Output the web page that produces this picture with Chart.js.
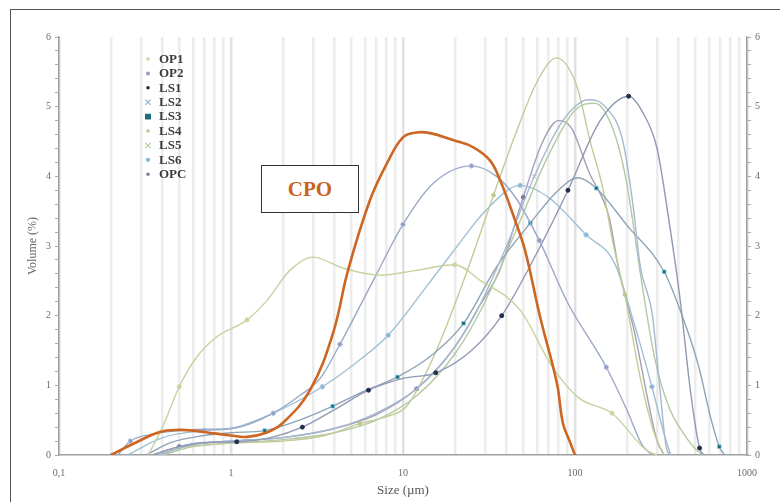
<!DOCTYPE html>
<html><head><meta charset="utf-8">
<script src="https://cdn.jsdelivr.net/npm/chart.js@4.4.1/dist/chart.umd.min.js"></script>
<style>
html,body{margin:0;padding:0;background:#fff;}
#wrap{position:relative;width:780px;height:502px;overflow:hidden;background:#fff;}
#frame{position:absolute;left:10px;top:9px;width:900px;height:700px;border-top:1.5px solid #555;border-left:1.5px solid #555;}
canvas{position:absolute;left:0;top:0;}
#cpo{position:absolute;left:261px;top:165px;width:96px;height:46px;border:1.5px solid #333;background:#fff;font:bold 21px "Liberation Serif",serif;color:#c8641e;display:flex;align-items:center;justify-content:center;}
</style></head>
<body>
<div id="wrap"><div id="frame"></div><canvas id="c" width="780" height="502"></canvas><div id="cpo">CPO</div></div>
<script>
// ---- data (size in µm, volume in %) ----
const cpoSize = [0.2,0.28,0.386,0.5,0.6,0.8,1.0,1.24,1.6,2.0,2.88,3.92,4.79,6.43,8.2,10.0,12.0,14.4,19.5,25.5,32,36.6,44.8,51.2,62.7,78.5,85,93,100];
const cpoVol  = [0,0.18,0.33,0.36,0.35,0.31,0.28,0.26,0.32,0.46,0.93,1.75,2.65,3.66,4.22,4.56,4.63,4.62,4.52,4.42,4.23,3.95,3.37,2.94,1.98,1.03,0.46,0.2,0];

const op1Size = [0.33,0.4,0.5,0.63,0.83,1.24,1.62,2.2,3.0,4.5,7.4,12,20,28,48,74,105,164,260,300];
const op1Vol  = [0,0.4,0.98,1.4,1.7,1.94,2.22,2.65,2.84,2.68,2.58,2.65,2.73,2.51,2.08,1.26,0.82,0.6,0.07,0];

const op2Size = [0.22,0.26,0.35,0.5,0.7,1.0,1.3,1.76,2.5,3.3,4.3,6.7,10,15,25,35,45,62,90,152,200,245,280];
const op2Vol  = [0,0.2,0.3,0.35,0.37,0.38,0.45,0.6,0.85,1.1,1.59,2.5,3.31,3.9,4.15,4.0,3.7,3.08,2.2,1.26,0.65,0.15,0];

const ls1Size = [0.35,0.5,0.7,1.08,1.7,2.6,4,6.3,10,15.5,25,37.5,60,91,140,205,250,300,350,410,470,530,560];
const ls1Vol  = [0,0.12,0.18,0.19,0.25,0.4,0.65,0.93,1.1,1.18,1.5,2.0,2.9,3.8,4.8,5.15,4.9,4.4,3.4,2.2,0.9,0.1,0];

const ls2Size = [0.38,0.6,1,2,4,7,12,18,26,40,58,85,120,150,190,217,240,282,310,340,360];
const ls2Vol  = [0,0.15,0.2,0.25,0.38,0.6,0.95,1.4,2.0,3.0,4.0,4.8,5.1,5.0,4.5,3.6,2.7,2.0,1.0,0.1,0];

const ls3Size = [0.32,0.45,0.7,1.0,1.57,2.5,3.9,6,9.3,15,22.5,35,55,80,104,133,200,330,420,520,620,690,740];
const ls3Vol  = [0,0.18,0.28,0.32,0.35,0.5,0.7,0.92,1.12,1.45,1.89,2.7,3.33,3.8,3.98,3.83,3.3,2.63,2.0,1.3,0.5,0.12,0];

const ls4Size = [0.38,0.5,0.7,1,2,3.5,5.6,8,10.5,15,22.5,33.6,45,60,78,103,122,146,165,195,240,290,330];
const ls4Vol  = [0,0.1,0.14,0.17,0.2,0.28,0.45,0.55,0.7,1.4,2.5,3.73,4.6,5.35,5.7,5.28,4.52,3.8,3.08,2.3,1.1,0.3,0];

const ls5Size = [0.4,0.6,1,2,4,7,12,20,30,45,70,100,130,165,200,240,290,350,430,520,560];
const ls5Vol  = [0,0.12,0.17,0.22,0.32,0.5,0.85,1.45,2.2,3.2,4.3,4.95,5.05,4.7,3.9,2.6,1.4,0.7,0.3,0.05,0];

const ls6Size = [0.25,0.4,0.7,1.0,1.76,3.4,5.5,8.2,14,20,30,48,70,116,170,220,280,330,360];
const ls6Vol  = [0,0.25,0.35,0.38,0.6,0.98,1.35,1.72,2.45,2.95,3.5,3.87,3.7,3.16,2.75,1.9,0.98,0.3,0];

const opcSize = [0.35,0.5,1,2,4,7,12,20,28,36.5,50,65,80,95,121,158,180,220,270,300,330];
const opcVol  = [0,0.12,0.2,0.25,0.38,0.58,0.95,1.55,2.15,2.65,3.7,4.5,4.8,4.7,4.05,3.41,2.65,1.8,0.7,0.2,0];

// sizes at which a marker is shown on each curve
const op1Marks = [0.5,1.24,20,164];
const op2Marks = [0.26,1.76,4.3,10,25,62,152];
const ls1Marks = [1.08,2.6,6.3,15.5,37.5,91,205,530];
const ls2Marks = [0.6,12,58];
const ls3Marks = [1.57,3.9,9.3,22.5,55,133,330,690];
const ls4Marks = [5.6,33.6,195];
const ls5Marks = [20];
const ls6Marks = [0.7,3.4,8.2,48,116,280];
const opcMarks = [0.5,12,50];

const xTickValues = [0.1,1,10,100,1000];
const xTickLabels = ['0,1','1','10','100','1000'];
const seriesNames = ['OP1','OP2','LS1','LS2','LS3','LS4','LS5','LS6','OPC'];

// ---- build ----
const gridVals = [];
[0.1,1,10,100].forEach(d => { for (let k=1;k<=9;k++) gridVals.push(+(k*d).toPrecision(3)); });
gridVals.push(1000);

function ds(label, xs, ys, color, width, marks, pStyle, mColor, mBorder, mSize) {
  return {
    label, data: xs.map((x,i)=>({x, y: ys[i]})),
    borderColor: color, borderWidth: width, fill:false,
    cubicInterpolationMode:'monotone',
    pointStyle: pStyle,
    pointBackgroundColor: mColor, pointBorderColor: mBorder, pointBorderWidth: 1,
    pointRadius: c => marks.includes(xs[c.dataIndex]) ? mSize : 0,
    _legend: {pStyle, mColor, mBorder, mSize}
  };
}

const cpoSet = ds('CPO', cpoSize, cpoVol, '#cc6622', 2.6, [], 'circle', '#cc6622', '#cc6622', 0);
cpoSet.cubicInterpolationMode = 'default';
cpoSet.tension = 0.4;

const datasets = [
  cpoSet,
  ds(seriesNames[0], op1Size, op1Vol, '#c6d39e', 1.4, op1Marks, 'circle', '#c9d6a0', '#c9d6a0', 2),
  ds(seriesNames[1], op2Size, op2Vol, '#9ba8c9', 1.4, op2Marks, 'circle', '#8e9cc4', '#b4c0dc', 2.2),
  ds(seriesNames[2], ls1Size, ls1Vol, '#8f99b5', 1.4, ls1Marks, 'circle', '#1f2d4a', '#1f2d4a', 2),
  ds(seriesNames[3], ls2Size, ls2Vol, '#a6b9cf', 1.4, ls2Marks, 'crossRot', '#9ab6d4', '#9ab6d4', 3),
  ds(seriesNames[4], ls3Size, ls3Vol, '#8ea3b6', 1.4, ls3Marks, 'rect', '#1d6a78', 'rgba(130,205,225,0.7)', 2.6),
  ds(seriesNames[5], ls4Size, ls4Vol, '#c3cc98', 1.4, ls4Marks, 'circle', '#bcc78e', '#bcc78e', 1.8),
  ds(seriesNames[6], ls5Size, ls5Vol, '#b4c9a4', 1.4, ls5Marks, 'crossRot', '#b3cfa0', '#b3cfa0', 3),
  ds(seriesNames[7], ls6Size, ls6Vol, '#9fc0d4', 1.4, ls6Marks, 'circle', '#88b6d0', '#b8d8e8', 2.4),
  ds(seriesNames[8], opcSize, opcVol, '#a39eb8', 1.4, opcMarks, 'circle', '#7f7f9a', '#7f7f9a', 2)
];

function drawMarker(ctx, style, x, y, r, fill, stroke) {
  ctx.save();
  ctx.fillStyle = fill; ctx.strokeStyle = stroke; ctx.lineWidth = 1.2;
  ctx.beginPath();
  if (style === 'rect') { ctx.rect(x-r, y-r, 2*r, 2*r); ctx.fill(); ctx.stroke(); }
  else if (style === 'crossRot') { ctx.moveTo(x-r,y-r); ctx.lineTo(x+r,y+r); ctx.moveTo(x+r,y-r); ctx.lineTo(x-r,y+r); ctx.stroke(); }
  else { ctx.arc(x, y, r, 0, Math.PI*2); ctx.fill(); }
  ctx.restore();
}

const legendPlugin = {
  id: 'sideLegend',
  afterDatasetsDraw(chart) {
    const ctx = chart.ctx;
    const items = chart.data.datasets.filter(d => d.label !== 'CPO');
    ctx.save();
    ctx.font = 'bold 13px "Liberation Serif", serif';
    ctx.textBaseline = 'middle';
    ctx.textAlign = 'left';
    items.forEach((d, i) => {
      const y = 59 + i * 14.4;
      const L = d._legend;
      drawMarker(ctx, L.pStyle, 148, y, Math.max(1.8, L.mSize * 0.9), L.mColor, L.mColor);
      ctx.fillStyle = '#3c3c3c';
      ctx.fillText(d.label, 159, y + 0.5);
    });
    ctx.restore();
  }
};

const serif = '"Liberation Serif", serif';
const yTickCb = v => Math.abs(v - Math.round(v)) < 1e-6 ? String(Math.round(v)) : '';

new Chart(document.getElementById('c'), {
  type: 'line',
  data: { datasets },
  options: {
    responsive: false, animation: false,
    layout: { padding: { left: 22, top: 37, right: 0, bottom: 0 } },
    plugins: { legend: { display: false }, tooltip: { enabled: false } },
    scales: {
      x: {
        type: 'logarithmic', position: 'bottom', min: 0.1, max: 1000,
        afterBuildTicks: s => { s.ticks = gridVals.map(v => ({ value: v, major: xTickValues.includes(v) })); },
        afterFit: s => { s.height = 47; },
        ticks: {
          autoSkip: false, maxRotation: 0, padding: 12, color: '#6a6a6a',
          font: { family: serif, size: 10 },
          callback: v => { const i = xTickValues.indexOf(+(+v).toPrecision(3)); return i >= 0 ? xTickLabels[i] : ''; }
        },
        grid: { drawTicks: false, lineWidth: 2.5, color: c => (c.tick && xTickValues.includes(c.tick.value)) ? '#e1e1e1' : '#ececec' },
        border: { display: true, color: '#a0a0a0', width: 1.5 },
        title: { display: true, text: 'Size (µm)', color: '#555', font: { family: serif, size: 13 }, padding: { top: 2, bottom: 4 } }
      },
      y: {
        position: 'left', min: 0, max: 6,
        afterFit: s => { s.width = 37; },
        ticks: { stepSize: 0.2, autoSkip: false, padding: 4, color: '#6a6a6a', font: { family: serif, size: 10 }, callback: yTickCb },
        grid: { drawOnChartArea: false, drawTicks: true, tickLength: 4, color: '#aaa' },
        border: { display: true, color: '#a0a0a0', width: 1.5 },
        title: { display: true, text: 'Volume (%)', color: '#666', font: { family: serif, size: 12 }, padding: { top: 4, bottom: 4 } }
      },
      y2: {
        position: 'right', min: 0, max: 6, display: true,
        afterFit: s => { s.width = 33; },
        ticks: { stepSize: 0.2, autoSkip: false, padding: 4, color: '#6a6a6a', font: { family: serif, size: 10 }, callback: yTickCb },
        grid: { drawOnChartArea: false, drawTicks: true, tickLength: 4, color: '#aaa' },
        border: { display: true, color: '#a0a0a0', width: 1.5 }
      }
    }
  },
  plugins: [legendPlugin]
});
</script>
</body></html>
